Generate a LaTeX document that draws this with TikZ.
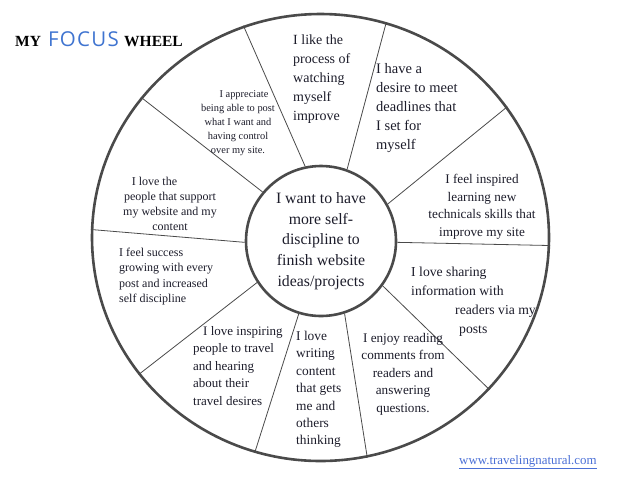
\documentclass[tikz,border=0pt]{standalone}
\usepackage{fontspec}
\setmainfont{Liberation Serif}
\newfontfamily\focusfont[LetterSpace=6]{Open Sans}
\usetikzlibrary{shapes.geometric}
\definecolor{ink}{HTML}{1C1C2A}
\definecolor{rimgray}{HTML}{4A4A4A}
\definecolor{focusblue}{HTML}{3F74D0}
\definecolor{linkblue}{HTML}{4A6FD6}
\newcommand{\fs}[2]{\fontsize{#1}{#2}\selectfont}
\begin{document}
\begin{tikzpicture}[x=1pt,y=-1pt,
  wheel/.style={draw=rimgray, line width=2.6pt, inner sep=0pt},
  spoke/.style={draw=rimgray, line width=0.8pt},
  petal/.style={text=ink, inner sep=0pt, align=left, anchor=north west},
  cpetal/.style={petal, align=center, anchor=north},
  titletext/.style={anchor=base west, inner sep=0pt}]
\useasboundingbox (0,0) rectangle (623,483);
\node[wheel, ellipse, minimum width=457pt, minimum height=447pt] (rim) at (320.5,237.5) {};
\node[wheel, circle, minimum size=150pt, text=ink, align=center, font=\fs{15.8}{20.6}] (hub) at (321,241) {I want to have\\more self-\\discipline to\\finish website\\ideas/projects};
\foreach \a/\b in {102.6/110.2, 70.9/73.8, 29.5/35.3, 359.2/358.6, 324.3/318, 288.9/282.6, 253.2/253.3, 213.1/217.8, 181.6/178.3, 140.9/142.8}
  \draw[spoke] (hub.\a) -- (rim.\b);
\node[petal, font=\fs{14}{19}] (like) at (293,34.7) {I like the\\process of\\watching\\myself\\improve};
\node[petal, font=\fs{14.5}{19}] (desire) at (376,63.5) {I have a\\desire to meet\\deadlines that\\I set for\\myself};
\node[cpetal, font=\fs{13.2}{17.5}] (inspired) at (482,174) {I feel inspired\\learning new\\technicals skills that\\improve my site};
\node[petal, font=\fs{13.7}{19}] (sharing) at (411,266.8) {I love sharing\\information with\\\hspace*{44pt}readers via my\\\hspace*{48pt}posts};
\node[cpetal, font=\fs{13.2}{17.5}] (reading) at (403,333) {I enjoy reading\\comments from\\readers and\\answering\\questions.};
\node[petal, font=\fs{13.4}{17.4}] (writing) at (296,331) {I love\\writing\\content\\that gets\\me and\\others\\thinking};
\node[petal, font=\fs{13}{17.5}] (inspiring) at (193,326) {\hspace*{10pt}I love inspiring\\people to travel\\and hearing\\about their\\travel desires};
\node[petal, font=\fs{12}{15.5}] (success) at (119,247.6) {I feel success\\growing with every\\post and increased\\self discipline};
\node[cpetal, font=\fs{12}{15}] (people) at (170,176.6) {\hspace*{-31pt}I love the\\people that support\\my website and my\\content};
\node[cpetal, font=\fs{10.4}{14}] (appreciate) at (238,90.3) {\hspace*{12pt}I appreciate\\being able to post\\what I want and\\having control\\over my site.};
\node[titletext, font=\bfseries\fs{15.5}{18}] (my) at (15,46) {MY};
\node[titletext, font=\focusfont\fs{20.5}{24}, text=focusblue] (focus) at (48,46) {FOCUS};
\node[titletext, font=\bfseries\fs{15.5}{18}] (wheeltitle) at (124,46) {WHEEL};
\node[titletext, font=\fs{12.9}{15}, text=linkblue] (site) at (459,464) {\underline{www.travelingnatural.com}};
\end{tikzpicture}
\end{document}
